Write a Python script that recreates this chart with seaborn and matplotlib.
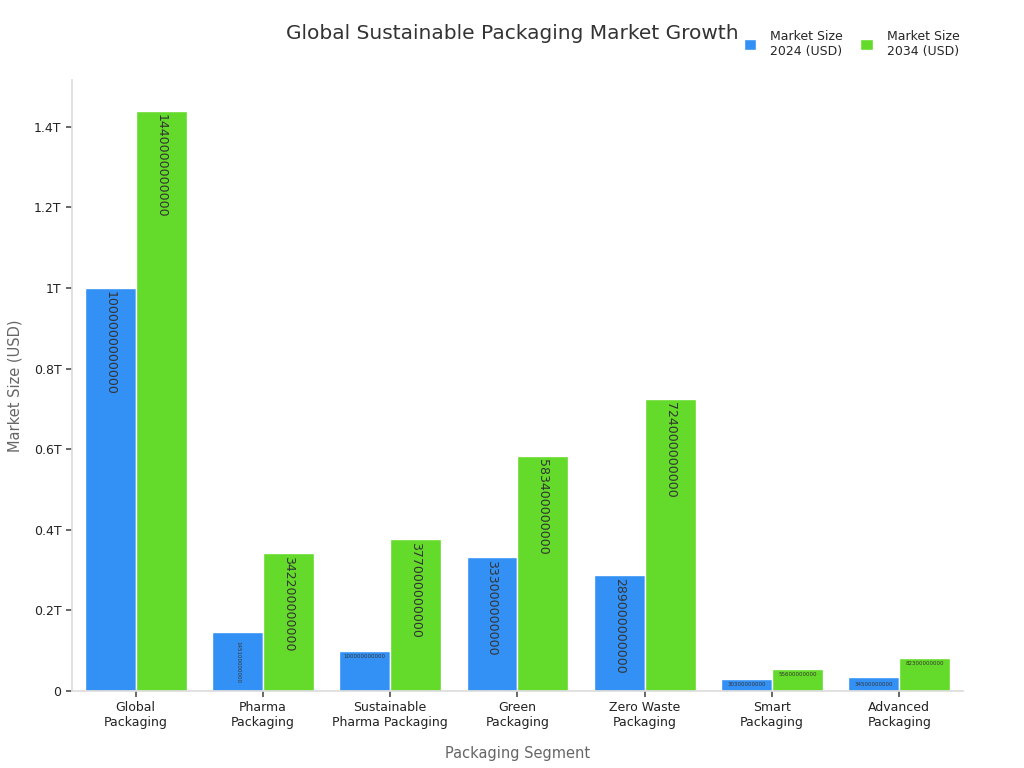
import matplotlib
matplotlib.use("Agg")
import matplotlib.pyplot as plt
import matplotlib.ticker as mticker
import seaborn as sns
import pandas as pd

segments = ["Global\nPackaging", "Pharma\nPackaging", "Sustainable\nPharma Packaging",
            "Green\nPackaging", "Zero Waste\nPackaging", "Smart\nPackaging", "Advanced\nPackaging"]
size_2024 = [1000000000000, 145100000000, 100000000000, 333000000000, 289000000000, 30300000000, 34500000000]
size_2034 = [1440000000000, 342200000000, 377000000000, 583400000000, 724000000000, 55600000000, 82300000000]
series = ["Market Size\n2024 (USD)", "Market Size\n2034 (USD)"]
colors = ["#3391F5", "#64DA2A"]

df = pd.DataFrame({
    "Segment": segments * 2,
    "Value": size_2024 + size_2034,
    "Series": [series[0]] * len(segments) + [series[1]] * len(segments),
})

sns.set_theme(style="white")
plt.rcParams['font.family'] = ['DejaVu Sans']

fig = plt.figure(figsize=(10.24, 7.68), dpi=100)
ax = fig.add_axes([0.0703, 0.1003, 0.8701, 0.7955])

sns.barplot(data=df, x="Segment", y="Value", hue="Series", palette=colors,
            width=0.8, edgecolor="white", linewidth=1, saturation=1, ax=ax, legend=True)

ax.set_xlim(-0.5, 6.5)
ax.set_ylim(0, 1.516e12)

def fmt(v, pos):
    if v == 0:
        return "0"
    t = v / 1e12
    s = f"{t:.1f}".rstrip("0").rstrip(".")
    return s + "T"

ax.yaxis.set_major_locator(mticker.MultipleLocator(0.2e12))
ax.yaxis.set_major_formatter(mticker.FuncFormatter(fmt))
ax.tick_params(axis="both", which="major", length=4, color="#555555", labelsize=9, labelcolor="#222222", left=True, bottom=True)

for sp in ["top", "right"]:
    ax.spines[sp].set_visible(False)
for sp in ["left", "bottom"]:
    ax.spines[sp].set_color("#dddddd")

ax.set_xlabel("Packaging Segment", fontsize=10.5, color="#666666", labelpad=12)
ax.set_ylabel("Market Size (USD)", fontsize=10.5, color="#666666", labelpad=8)

for container in ax.containers:
    for bar in container:
        h = bar.get_height()
        x = bar.get_x() + bar.get_width() / 2
        label = f"{int(round(h))}"
        if h >= 0.2e12:
            ax.text(x, h - 0.008e12, label, rotation=270, ha="center", va="top",
                    fontsize=9, color="#333333")
        elif h >= 0.12e12:
            ax.text(x, h / 2, label, rotation=270, ha="center", va="center",
                    fontsize=4, color="#333333")
        elif h >= 0.05e12:
            ax.text(x, h - 0.015e12, label, ha="center", va="center", fontsize=4, color="#333333")
        else:
            ax.text(x, h / 2, label, ha="center", va="center", fontsize=4, color="#333333")

leg = ax.legend(loc="upper left", bbox_to_anchor=(0.7415, 1.1), ncol=2, frameon=False,
                fontsize=9, handlelength=1.0, handleheight=1.0, columnspacing=1.4, handletextpad=1.1)

fig.text(0.5, 0.957, "Global Sustainable Packaging Market Growth", ha="center", va="center",
         fontsize=14.5, color="#333333")

fig.savefig("out.png", dpi=100)
